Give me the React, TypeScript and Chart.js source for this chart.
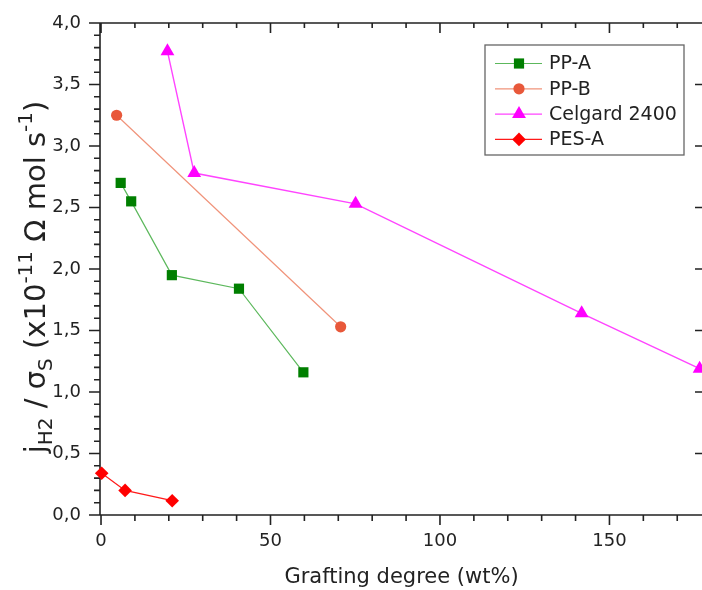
import React, { useEffect, useRef } from 'react';
import { Chart, registerables } from 'chart.js';
import { drawPoint } from 'chart.js/helpers';

Chart.register(...registerables);

const seriesNames = ['PP-A', 'PP-B', 'Celgard 2400', 'PES-A'];
const ppaX = [5.8, 8.9, 20.9, 40.7, 59.7];
const ppaY = [2.7, 2.55, 1.95, 1.84, 1.16];
const ppbX = [4.6, 70.7];
const ppbY = [3.25, 1.53];
const celX = [19.6, 27.5, 75.1, 141.8, 176.6];
const celY = [3.77, 2.78, 2.53, 1.64, 1.19];
const pesX = [0.2, 7.1, 21.0];
const pesY = [0.34, 0.2, 0.116];
const xTickLabels = [0, 50, 100, 150];
const yTickValues = [0, 0.5, 1, 1.5, 2, 2.5, 3, 3.5, 4];
const xTitle = 'Grafting degree (wt%)';
const yTitleParts = [
  { t: 'j', k: 'n' },
  { t: 'H2', k: 'sub' },
  { t: ' / σ', k: 'n' },
  { t: 'S', k: 'sub' },
  { t: ' (x10', k: 'n' },
  { t: '-11', k: 'sup' },
  { t: ' Ω mol s', k: 'n' },
  { t: '-1', k: 'sup' },
  { t: ')', k: 'n' },
];

const FONT = '"DejaVu Sans", sans-serif';
const TEXT = '#222';

const pts = (xs: number[], ys: number[]) => xs.map((x, i) => ({ x, y: ys[i] }));

const framePlugin = {
  id: 'frame',
  beforeDatasetsDraw(chart: any) {
    const { ctx, chartArea: a, scales } = chart;
    const x = scales.x;
    const y = scales.y;
    ctx.save();
    ctx.strokeStyle = '#222';
    ctx.lineWidth = 1.6;
    ctx.beginPath();
    ctx.rect(a.left, a.top, a.right - a.left, a.bottom - a.top);
    for (let v = 0; v <= x.max + 1e-9; v += 10) {
      const px = x.getPixelForValue(v);
      const major = v % 50 === 0;
      ctx.moveTo(px, a.bottom);
      ctx.lineTo(px, a.bottom + (major ? 10 : 6));
      ctx.moveTo(px, a.top);
      ctx.lineTo(px, a.top + (major ? 10 : 5));
    }
    for (let i = 0; i <= 40; i++) {
      const py = y.getPixelForValue(i / 10);
      const major = i % 5 === 0;
      ctx.moveTo(a.left, py);
      ctx.lineTo(a.left - (major ? 11 : 6), py);
      if (major) {
        ctx.moveTo(a.right, py);
        ctx.lineTo(a.right - 8, py);
      }
    }
    ctx.stroke();
    ctx.restore();
  },
  afterDraw(chart: any) {
    const { ctx, chartArea: a } = chart;
    // Y title with sub/superscripts
    ctx.save();
    const mainF = `29px ${FONT}`;
    const smallF = `20px ${FONT}`;
    let total = 0;
    const widths = yTitleParts.map((p) => {
      ctx.font = p.k === 'n' ? mainF : smallF;
      const w = ctx.measureText(p.t).width;
      total += w;
      return w;
    });
    ctx.translate(45, (a.top + a.bottom) / 2 + 8);
    ctx.rotate(-Math.PI / 2);
    ctx.fillStyle = TEXT;
    ctx.textBaseline = 'alphabetic';
    ctx.textAlign = 'left';
    let cx = -total / 2;
    yTitleParts.forEach((p, i) => {
      ctx.font = p.k === 'n' ? mainF : smallF;
      const dy = p.k === 'sub' ? 7 : p.k === 'sup' ? -13 : 0;
      ctx.fillText(p.t, cx, dy);
      cx += widths[i];
    });
    ctx.restore();

    // Legend
    ctx.save();
    const bx = a.right - 218;
    const by = a.top + 22;
    const bw = 199;
    const bh = 110;
    ctx.fillStyle = '#fff';
    ctx.fillRect(bx, by, bw, bh);
    ctx.strokeStyle = '#666';
    ctx.lineWidth = 1.3;
    ctx.strokeRect(bx, by, bw, bh);
    chart.data.datasets.forEach((ds: any, i: number) => {
      const ry = by + 18.5 + i * 25.3;
      ctx.strokeStyle = ds.borderColor;
      ctx.lineWidth = 1.2;
      ctx.beginPath();
      ctx.moveTo(bx + 10, ry);
      ctx.lineTo(bx + 57, ry);
      ctx.stroke();
      ctx.fillStyle = ds.pointBackgroundColor;
      ctx.strokeStyle = ds.pointBackgroundColor;
      drawPoint(ctx, { pointStyle: ds.pointStyle, rotation: 0, radius: ds.pointRadius, borderWidth: 0 }, bx + 34, ry);
      ctx.fillStyle = TEXT;
      ctx.font = `19px ${FONT}`;
      ctx.textBaseline = 'middle';
      ctx.textAlign = 'left';
      ctx.fillText(ds.label, bx + 64, ry + 1);
    });
    ctx.restore();
  },
};

export default function App() {
  const ref = useRef<HTMLCanvasElement | null>(null);
  useEffect(() => {
    if (!ref.current) return;
    const chart = new Chart(ref.current, {
      type: 'scatter',
      data: {
        datasets: [
          {
            label: seriesNames[0],
            data: pts(ppaX, ppaY),
            showLine: true,
            borderColor: '#5cb85c',
            borderWidth: 1.2,
            pointStyle: 'rect',
            pointRadius: 7.2,
            pointBackgroundColor: '#007f00',
            pointBorderColor: '#007f00',
            pointBorderWidth: 0,
            clip: false,
          },
          {
            label: seriesNames[1],
            data: pts(ppbX, ppbY),
            showLine: true,
            borderColor: '#f0937a',
            borderWidth: 1.2,
            pointStyle: 'circle',
            pointRadius: 5.6,
            pointBackgroundColor: '#e8583a',
            pointBorderColor: '#e8583a',
            pointBorderWidth: 0,
            clip: false,
          },
          {
            label: seriesNames[2],
            data: pts(celX, celY),
            showLine: true,
            borderColor: '#ff44ff',
            borderWidth: 1.4,
            pointStyle: 'triangle',
            pointRadius: 8,
            pointBackgroundColor: '#ff00ff',
            pointBorderColor: '#ff00ff',
            pointBorderWidth: 0,
            clip: false,
          },
          {
            label: seriesNames[3],
            data: pts(pesX, pesY),
            showLine: true,
            borderColor: '#ff1a1a',
            borderWidth: 1.3,
            pointStyle: 'rectRot',
            pointRadius: 6.8,
            pointBackgroundColor: '#ff0000',
            pointBorderColor: '#ff0000',
            pointBorderWidth: 0,
            clip: false,
          },
        ],
      },
      options: {
        animation: false,
        responsive: false,
        events: [],
        layout: { autoPadding: false, padding: { top: 23, right: 3, bottom: 0, left: 0 } },
        plugins: { legend: { display: false }, tooltip: { enabled: false } },
        scales: {
          x: {
            type: 'linear',
            min: -0.3,
            max: 177.6,
            afterFit: (s: any) => {
              s.height = 75;
              s.paddingLeft = 0;
              s.paddingRight = 0;
              s.paddingTop = 0;
              s.paddingBottom = 0;
            },
            afterBuildTicks: (s: any) => {
              s.ticks = xTickLabels.map((v) => ({ value: v }));
            },
            grid: { display: false, drawTicks: false },
            border: { display: false },
            ticks: {
              autoSkip: false,
              maxRotation: 0,
              padding: 16,
              color: TEXT,
              font: { family: FONT, size: 18 },
              callback: (v: any) => String(v),
            },
            title: {
              display: true,
              text: xTitle,
              color: TEXT,
              font: { family: FONT, size: 21 },
              padding: { top: 0, bottom: 0 },
            },
          },
          y: {
            type: 'linear',
            min: 0,
            max: 4,
            afterFit: (s: any) => {
              s.width = 100;
              s.paddingLeft = 0;
              s.paddingRight = 0;
              s.paddingTop = 0;
              s.paddingBottom = 0;
            },
            afterBuildTicks: (s: any) => {
              s.ticks = yTickValues.map((v) => ({ value: v }));
            },
            grid: { display: false, drawTicks: false },
            border: { display: false },
            ticks: {
              autoSkip: false,
              padding: 19,
              color: TEXT,
              font: { family: FONT, size: 18 },
              callback: (v: any) => Number(v).toFixed(1).replace('.', ','),
            },
          },
        },
      },
      plugins: [framePlugin],
    });
    return () => chart.destroy();
  }, []);
  return (
    <div style={{ position: 'absolute', left: 0, top: 0, width: 702, height: 590, overflow: 'hidden', background: '#fff' }}>
      <canvas ref={ref} width={706} height={590} style={{ width: 706, height: 590, display: 'block' }} />
    </div>
  );
}
